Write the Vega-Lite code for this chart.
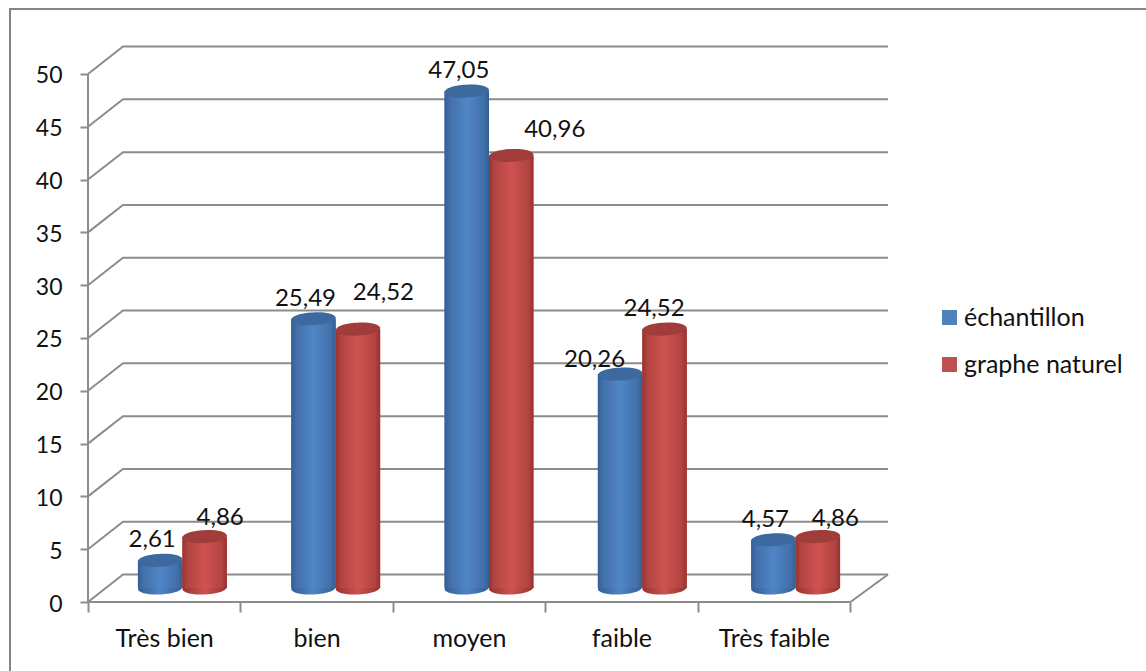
{"$schema":"https://vega.github.io/schema/vega-lite/v6.json","width":800,"height":556,"autosize":"none","padding":{"left":88,"top":46,"right":258,"bottom":69},"background":"white","config":{"view":{"stroke":null},"font":"Lato","text":{"font":"Lato"}},"datasets":{"bars":[{"categorie":"Très bien","serie":"échantillon","valeur":2.61,"texte":"2,61"},{"categorie":"Très bien","serie":"graphe naturel","valeur":4.86,"texte":"4,86"},{"categorie":"bien","serie":"échantillon","valeur":25.49,"texte":"25,49"},{"categorie":"bien","serie":"graphe naturel","valeur":24.52,"texte":"24,52"},{"categorie":"moyen","serie":"échantillon","valeur":47.05,"texte":"47,05"},{"categorie":"moyen","serie":"graphe naturel","valeur":40.96,"texte":"40,96"},{"categorie":"faible","serie":"échantillon","valeur":20.26,"texte":"20,26"},{"categorie":"faible","serie":"graphe naturel","valeur":24.52,"texte":"24,52"},{"categorie":"Très faible","serie":"échantillon","valeur":4.57,"texte":"4,57"},{"categorie":"Très faible","serie":"graphe naturel","valeur":4.86,"texte":"4,86"}],"grid":[{"g":0,"a":0,"b":0},{"g":0,"a":0.23,"b":2.6},{"g":0,"a":5.26,"b":2.6},{"g":5,"a":0,"b":5},{"g":5,"a":0.23,"b":7.6},{"g":5,"a":5.26,"b":7.6},{"g":10,"a":0,"b":10},{"g":10,"a":0.23,"b":12.6},{"g":10,"a":5.26,"b":12.6},{"g":15,"a":0,"b":15},{"g":15,"a":0.23,"b":17.6},{"g":15,"a":5.26,"b":17.6},{"g":20,"a":0,"b":20},{"g":20,"a":0.23,"b":22.6},{"g":20,"a":5.26,"b":22.6},{"g":25,"a":0,"b":25},{"g":25,"a":0.23,"b":27.6},{"g":25,"a":5.26,"b":27.6},{"g":30,"a":0,"b":30},{"g":30,"a":0.23,"b":32.6},{"g":30,"a":5.26,"b":32.6},{"g":35,"a":0,"b":35},{"g":35,"a":0.23,"b":37.6},{"g":35,"a":5.26,"b":37.6},{"g":40,"a":0,"b":40},{"g":40,"a":0.23,"b":42.6},{"g":40,"a":5.26,"b":42.6},{"g":45,"a":0,"b":45},{"g":45,"a":0.23,"b":47.6},{"g":45,"a":5.26,"b":47.6},{"g":50,"a":0,"b":50},{"g":50,"a":0.23,"b":52.6},{"g":50,"a":5.26,"b":52.6},{"g":"axeY","a":0,"b":0},{"g":"axeY","a":0,"b":50},{"g":"axeX","a":0,"b":0},{"g":"axeX","a":5.013,"b":0},{"g":"plancher","a":5.013,"b":0},{"g":"plancher","a":5.26,"b":2.6}]},"data":{"name":"bars"},"resolve":{"scale":{"x":"independent","y":"independent","xOffset":"independent"},"axis":{"x":"independent","y":"independent"}},"layer":[{"data":{"values":[{"cadre":"cadre"}]},"mark":{"type":"rect","fill":"transparent","stroke":"#858585","strokeWidth":2,"clip":false},"encoding":{"x":{"datum":0,"type":"quantitative","scale":{"domain":[0,1],"range":[-78,1080],"nice":false,"zero":false},"axis":null},"x2":{"datum":1},"y":{"datum":0,"type":"quantitative","scale":{"domain":[0,1],"range":[-37,640],"nice":false,"zero":false},"axis":null},"y2":{"datum":1}}},{"data":{"name":"grid"},"mark":{"type":"line","color":"#8c8c8c","strokeWidth":2,"clip":false,"interpolate":"linear"},"encoding":{"x":{"field":"a","type":"quantitative","scale":{"domain":[0,5.26],"range":[0,800],"nice":false,"zero":false},"axis":null},"y":{"field":"b","type":"quantitative","scale":{"domain":[0,52.65],"range":[556,0],"nice":false,"zero":false},"axis":null},"detail":{"field":"g","type":"nominal"},"order":{"field":"a","type":"quantitative"}}},{"mark":{"type":"rule","opacity":0},"encoding":{"y":{"field":"valeur","type":"quantitative","scale":{"domain":[0,52.65],"range":[556,0],"nice":false,"zero":false},"axis":{"orient":"left","values":[0,5,10,15,20,25,30,35,40,45,50],"domain":false,"grid":false,"tickColor":"#8c8c8c","tickWidth":2,"tickSize":8,"labelFontSize":23,"labelFont":"Lato","labelColor":"#111111","labelPadding":18,"labelOffset":2,"title":null}},"x":{"field":"categorie","type":"nominal","sort":null,"scale":{"type":"band","domain":["Très bien","bien","moyen","faible","Très faible"],"range":[0,762],"paddingInner":0,"paddingOuter":0},"axis":{"orient":"bottom","domain":false,"grid":false,"tickColor":"#8c8c8c","tickWidth":2,"tickSize":10,"tickBand":"extent","labelAngle":0,"labelFontSize":25,"labelFont":"Lato","labelColor":"#111111","labelPadding":14,"title":null}}}},{"encoding":{"x":{"field":"categorie","type":"nominal","scale":{"type":"band","domain":["Très bien","bien","moyen","faible","Très faible"],"range":[18.5,783.5],"paddingInner":0.42,"paddingOuter":0.205},"axis":null},"xOffset":{"field":"serie","type":"nominal","scale":{"type":"band","domain":["échantillon","graphe naturel"],"paddingInner":0,"paddingOuter":0}},"y":{"field":"valeur","type":"quantitative","scale":{"domain":[0,52.65],"range":[542,-14],"nice":false,"zero":false},"axis":null}},"layer":[{"mark":{"type":"bar","stroke":null},"encoding":{"y2":{"datum":0},"color":{"field":"serie","type":"nominal","scale":{"domain":["échantillon","graphe naturel"],"range":["#4f81bd","#c0504d"]},"legend":{"orient":"none","legendX":849,"legendY":259,"title":null,"symbolType":"square","symbolSize":225,"symbolStrokeWidth":0,"labelFontSize":25,"labelFont":"Lato","labelColor":"#111111","labelOffset":2,"rowPadding":21,"symbolOpacity":1}}}},{"transform":[{"filter":"datum.serie==='échantillon'"}],"mark":{"type":"point","filled":true,"size":1980,"opacity":1,"stroke":null,"shape":"M-1,0.06 C-1,-0.33 0.9,-0.44 1,-0.06 C1,0.33 -0.9,0.44 -1,0.06 Z","fill":{"gradient":"linear","x1":0,"y1":0,"x2":1,"y2":0,"stops":[{"offset":0,"color":"#345f95"},{"offset":0.5,"color":"#4f84c4"},{"offset":1,"color":"#345f95"}]}},"encoding":{"y":{"datum":0}}},{"transform":[{"filter":"datum.serie==='échantillon'"}],"mark":{"type":"bar","stroke":null,"fill":{"gradient":"linear","x1":0,"y1":0,"x2":1,"y2":0,"stops":[{"offset":0,"color":"#345f95"},{"offset":0.12,"color":"#4270aa"},{"offset":0.5,"color":"#5086c6"},{"offset":0.88,"color":"#4270aa"},{"offset":1,"color":"#345f95"}]}},"encoding":{"y2":{"datum":0}}},{"transform":[{"filter":"datum.serie==='échantillon'"}],"mark":{"type":"point","filled":true,"size":1980,"opacity":1,"stroke":null,"fill":"#3c6a9f","shape":"M-1,0.06 C-1,-0.33 0.9,-0.44 1,-0.06 C1,0.33 -0.9,0.44 -1,0.06 Z"}},{"transform":[{"filter":"datum.serie==='graphe naturel'"}],"mark":{"type":"point","filled":true,"size":1980,"opacity":1,"stroke":null,"shape":"M-1,0.06 C-1,-0.33 0.9,-0.44 1,-0.06 C1,0.33 -0.9,0.44 -1,0.06 Z","fill":{"gradient":"linear","x1":0,"y1":0,"x2":1,"y2":0,"stops":[{"offset":0,"color":"#983230"},{"offset":0.5,"color":"#cc524f"},{"offset":1,"color":"#983230"}]}},"encoding":{"y":{"datum":0}}},{"transform":[{"filter":"datum.serie==='graphe naturel'"}],"mark":{"type":"bar","stroke":null,"fill":{"gradient":"linear","x1":0,"y1":0,"x2":1,"y2":0,"stops":[{"offset":0,"color":"#983230"},{"offset":0.12,"color":"#b24441"},{"offset":0.5,"color":"#ce5350"},{"offset":0.88,"color":"#b24441"},{"offset":1,"color":"#983230"}]}},"encoding":{"y2":{"datum":0}}},{"transform":[{"filter":"datum.serie==='graphe naturel'"}],"mark":{"type":"point","filled":true,"size":1980,"opacity":1,"stroke":null,"fill":"#a03d3a","shape":"M-1,0.06 C-1,-0.33 0.9,-0.44 1,-0.06 C1,0.33 -0.9,0.44 -1,0.06 Z"}},{"transform":[{"filter":"datum.serie==='échantillon' && datum.categorie!=='faible'"}],"mark":{"type":"text","fontSize":24,"font":"Lato","color":"#111111","baseline":"middle","dx":-8,"dy":-20},"encoding":{"text":{"field":"texte"}}},{"transform":[{"filter":"datum.serie==='échantillon' && datum.categorie==='faible'"}],"mark":{"type":"text","fontSize":24,"font":"Lato","color":"#111111","baseline":"middle","dx":-25.5,"dy":-14},"encoding":{"text":{"field":"texte"}}},{"transform":[{"filter":"datum.serie==='graphe naturel' && datum.categorie==='Très bien'"}],"mark":{"type":"text","fontSize":24,"font":"Lato","color":"#111111","baseline":"middle","dx":15.5,"dy":-19},"encoding":{"text":{"field":"texte"}}},{"transform":[{"filter":"datum.serie==='graphe naturel' && datum.categorie==='bien'"}],"mark":{"type":"text","fontSize":24,"font":"Lato","color":"#111111","baseline":"middle","dx":25.5,"dy":-36},"encoding":{"text":{"field":"texte"}}},{"transform":[{"filter":"datum.serie==='graphe naturel' && datum.categorie==='moyen'"}],"mark":{"type":"text","fontSize":24,"font":"Lato","color":"#111111","baseline":"middle","dx":43.5,"dy":-25},"encoding":{"text":{"field":"texte"}}},{"transform":[{"filter":"datum.serie==='graphe naturel' && datum.categorie==='faible'"}],"mark":{"type":"text","fontSize":24,"font":"Lato","color":"#111111","baseline":"middle","dx":-10.5,"dy":-20},"encoding":{"text":{"field":"texte"}}},{"transform":[{"filter":"datum.serie==='graphe naturel' && datum.categorie==='Très faible'"}],"mark":{"type":"text","fontSize":24,"font":"Lato","color":"#111111","baseline":"middle","dx":17.5,"dy":-18},"encoding":{"text":{"field":"texte"}}}]}]}
